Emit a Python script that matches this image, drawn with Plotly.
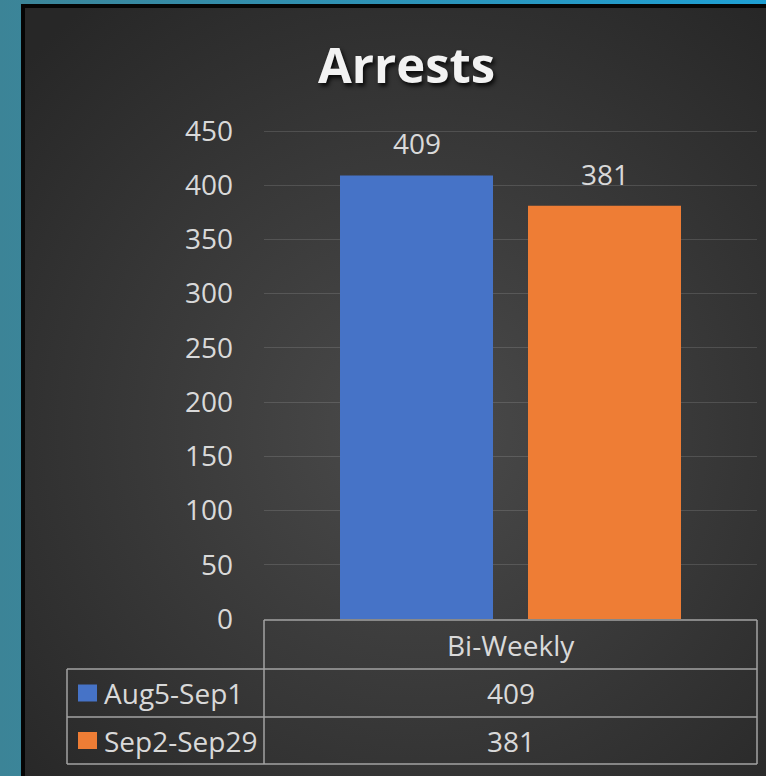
"""Arrests bar chart with an Excel-style data table underneath"""

from urllib.parse import quote
import plotly.graph_objects as go

# data
CATEGORY = "Bi-Weekly"
SERIES = ["Aug5-Sep1", "Sep2-Sep29"]
VALUES = [409, 381]
Y_TICKS = [0, 50, 100, 150, 200, 250, 300, 350, 400, 450]

# styles
COLORS = ["#4673c7", "#ee7d35"]
FONT = "Open Sans"
TEXT_COLOR = "#d9d9d9"
LINE_COLOR = "#a3a3a3"

W, H = 766, 776
L, R, T, B = 264, 9, 125, 157
PW, PH = W - L - R, H - T - B
Y_MAX = 450 * PH / 488  # some headroom above 450 so the top gridline is drawn

BAR_W = 153 / PW
GAP = 35 / PW
OFFSETS = [-GAP / 2 - BAR_W, GAP / 2]


def px(x):
    """pixel x -> paper x"""
    return (x - L) / PW


def py(y):
    """pixel y (from top) -> paper y"""
    return (H - B - y) / PH


# background: teal frame, black border, dark radial gradient chart area
svg = f"""<svg xmlns='http://www.w3.org/2000/svg' width='{W}' height='{H}'>
<defs>
<linearGradient id='o' gradientUnits='userSpaceOnUse' x1='0' y1='0' x2='{W}' y2='0'>
<stop offset='0' stop-color='#3c8497'/><stop offset='1' stop-color='#1e9fd3'/></linearGradient>
<radialGradient id='c' gradientUnits='userSpaceOnUse' cx='420' cy='430' r='540'>
<stop offset='0' stop-color='#4b4b4b'/><stop offset='1' stop-color='#272727'/></radialGradient>
</defs>
<rect width='{W}' height='{H}' fill='url(#o)'/>
<rect x='21' y='4' width='900' height='900' fill='#050505'/>
<rect x='25' y='8' width='900' height='900' fill='url(#c)'/>
</svg>"""

fig = go.Figure()

for name, val, color, off in zip(SERIES, VALUES, COLORS, OFFSETS):
    fig.add_trace(go.Bar(
        x=[CATEGORY], y=[val], name=name,
        width=BAR_W, offset=off,
        marker=dict(color=color, line=dict(width=0)),
        hoverinfo="y+name",
    ))

annotations = []
shapes = []

# data labels above bars
for val, off in zip(VALUES, OFFSETS):
    annotations.append(dict(
        x=CATEGORY, y=val, xref="x", yref="y",
        text=str(val), showarrow=False,
        xshift=(off + BAR_W / 2) * PW, yshift=11, yanchor="bottom",
        font=dict(family=FONT, size=28, color=TEXT_COLOR),
    ))

# data table
row_tops = [620, 669, 717, 764]
table_left, table_div, table_right = 67, 264, 757

def hline(y, x0, x1):
    shapes.append(dict(type="line", xref="paper", yref="paper",
                       x0=px(x0), x1=px(x1), y0=py(y), y1=py(y),
                       line=dict(color=LINE_COLOR, width=1.5)))

def vline(x, y0, y1):
    shapes.append(dict(type="line", xref="paper", yref="paper",
                       x0=px(x), x1=px(x), y0=py(y0), y1=py(y1),
                       line=dict(color=LINE_COLOR, width=1.5)))

hline(row_tops[0], table_div, table_right)
for y in row_tops[1:]:
    hline(y, table_left, table_right)
vline(table_div, row_tops[0], row_tops[-1])
vline(table_right, row_tops[0], row_tops[-1])
vline(table_left, row_tops[1], row_tops[-1])

cell_font = dict(family=FONT, size=28, color=TEXT_COLOR)
mid_x = px((table_div + table_right) / 2)

annotations.append(dict(
    x=mid_x, y=py((row_tops[0] + row_tops[1]) / 2), xref="paper", yref="paper",
    text=CATEGORY, showarrow=False, font=cell_font,
    xanchor="center", yanchor="middle",
))

for i, (name, val, color) in enumerate(zip(SERIES, VALUES, COLORS)):
    yc = (row_tops[i + 1] + row_tops[i + 2]) / 2
    shapes.append(dict(type="rect", xref="paper", yref="paper",
                       x0=px(78), x1=px(97), y0=py(yc - 8.5), y1=py(yc + 8.5),
                       fillcolor=color, line=dict(width=0)))
    annotations.append(dict(
        x=px(102), y=py(yc), xref="paper", yref="paper",
        text=name, showarrow=False, font=cell_font,
        xanchor="left", yanchor="middle",
    ))
    annotations.append(dict(
        x=mid_x, y=py(yc), xref="paper", yref="paper",
        text=str(val), showarrow=False, font=cell_font,
        xanchor="center", yanchor="middle",
    ))

fig.update_layout(
    width=W, height=H,
    margin=dict(l=L, r=R, t=T, b=B, pad=0),
    paper_bgcolor="#2b2b2b",
    plot_bgcolor="rgba(0,0,0,0)",
    barmode="overlay",
    showlegend=False,
    title=dict(
        text="<b>Arrests</b>",
        x=406.5 / W, xanchor="center", xref="container",
        y=1 - 66 / H, yanchor="middle", yref="container",
        font=dict(family=FONT, size=49, color="#f2f2f2",
                  shadow="2px 3px 4px rgba(0,0,0,0.85)"),
    ),
    xaxis=dict(type="category", range=[-0.5, 0.5], showticklabels=False,
               showgrid=False, zeroline=False, showline=False),
    yaxis=dict(range=[0, Y_MAX], tickvals=Y_TICKS,
               gridcolor="rgba(255,255,255,0.13)", gridwidth=1,
               zeroline=False, showline=False,
               tickfont=dict(family=FONT, size=28, color=TEXT_COLOR),
               ticklabelstandoff=30),
    images=[dict(
        source="data:image/svg+xml;charset=utf-8," + quote(svg),
        xref="paper", yref="paper", x=px(0), y=py(0),
        sizex=W / PW, sizey=H / PH, xanchor="left", yanchor="top",
        sizing="stretch", layer="below",
    )],
    shapes=shapes,
    annotations=annotations,
)

# page margin off so the figure sits at the window's top-left corner
fig.write_html("out.html", config={"displayModeBar": False},
               post_script="document.body.style.margin='0px';")
